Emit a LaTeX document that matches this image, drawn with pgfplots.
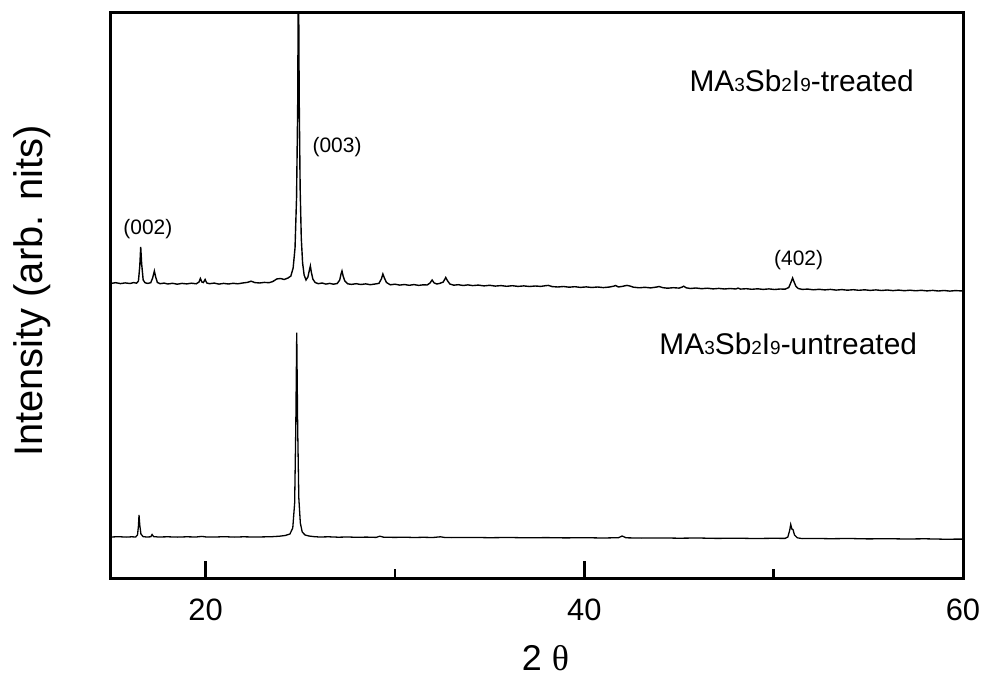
\documentclass[border=0pt]{standalone}
\usepackage{pgfplots}
\pgfplotsset{compat=1.18}
\usepackage{fontspec}
\setmainfont{Liberation Sans}
\newfontfamily\seriffont{Liberation Serif}
\newcommand\sub[1]{{\fontsize{19}{19}\selectfont #1}}

\begin{document}
\begin{tikzpicture}
\useasboundingbox (-111bp,-112bp) rectangle (871bp,578bp);
\begin{axis}[
  at={(0,0)}, anchor=south west,
  scale only axis, width=852bp, height=565bp,
  xmin=15, xmax=60, ymin=0, ymax=565,
  xtick={20,40,60}, minor xtick={30,50},
  xtick pos=left, ytick=\empty,
  tick align=inside,
  major tick length=17bp, minor tick length=9bp,
  every tick/.style={black, line width=2.6bp},
  axis line style={line width=3bp},
  tick label style={font=\fontsize{31}{31}\selectfont, inner sep=0pt},
  /pgf/number format/assume math mode=true,
  xticklabel shift=21bp,
  xlabel={2 {\seriffont θ}},
  ylabel={Intensity (arb. nits)},
  every axis x label/.style={at={(axis description cs:0.51,-0.142)}, anchor=center, font=\fontsize{36}{36}\selectfont},
  every axis y label/.style={at={(axis description cs:-0.093,0.508)}, rotate=90, anchor=center, font=\fontsize{40}{40}\selectfont},
]
% treated film
\addplot[black, no markers, line width=1.4bp] coordinates {
(15.00,294.6) (15.25,295.3) (15.50,294.4) (15.75,295.1) (16.00,294.5) (16.20,295.4)
(16.35,294.8) (16.45,297) (16.52,312) (16.57,331) (16.62,314) (16.70,298) (16.80,295.2)
(16.95,294.6) (17.10,295.3) (17.20,300) (17.29,307) (17.36,301) (17.45,295.5) (17.60,294.3)
(17.80,294.9) (18.00,294.0) (18.25,294.7) (18.50,293.8) (18.75,294.6) (19.00,294.1)
(19.25,294.8) (19.50,294.2) (19.65,296) (19.72,299.5) (19.80,296) (19.88,295.5) (19.97,298.5)
(20.06,295) (20.20,294.3) (20.45,294.9) (20.70,293.9) (20.95,294.6) (21.20,294.0)
(21.45,294.7) (21.70,294.2) (21.95,295.0) (22.20,295.6) (22.40,296.8) (22.60,295.4)
(22.85,295.0) (23.10,295.6) (23.35,295.3) (23.55,296.5) (23.75,299) (23.95,299.5)
(24.15,298.5) (24.35,300) (24.50,302) (24.62,310) (24.72,330) (24.80,380) (24.86,470)
(24.90,620) (24.94,480) (24.99,390) (25.05,340) (25.12,315) (25.20,303) (25.30,298)
(25.40,301) (25.48,308) (25.53,312) (25.58,306) (25.66,299) (25.78,295.5) (25.95,294.3)
(26.15,295.0) (26.35,293.9) (26.55,294.6) (26.75,293.8) (26.95,294.5) (27.08,298)
(27.15,304) (27.20,307) (27.26,302) (27.35,297) (27.50,294.2) (27.70,293.6) (27.95,294.3)
(28.20,293.5) (28.45,294.1) (28.70,293.3) (28.95,294.0) (29.15,294.6) (29.28,299)
(29.36,304) (29.44,300) (29.55,295.5) (29.75,293.2) (30.00,293.8) (30.25,292.9)
(30.50,293.5) (30.75,292.7) (31.00,293.4) (31.25,292.6) (31.50,293.2) (31.70,293.0)
(31.85,295) (31.96,298) (32.06,295.2) (32.20,294.0) (32.35,294.5) (32.55,296) (32.68,300.5)
(32.78,297) (32.90,294) (33.10,292.8) (33.35,293.3) (33.60,292.5) (33.85,293.1)
(34.10,292.4) (34.40,292.9) (34.70,292.1) (35.00,292.7) (35.30,291.9) (35.60,292.4)
(35.90,291.7) (36.20,292.3) (36.50,291.6) (36.80,292.1) (37.10,291.5) (37.40,292.0)
(37.70,291.6) (37.95,292.3) (38.10,292.6) (38.30,291.4) (38.60,291.0) (38.90,291.5)
(39.20,290.8) (39.50,291.3) (39.80,290.6) (40.10,291.1) (40.40,290.5) (40.70,291.0)
(41.00,290.4) (41.30,290.9) (41.55,291.8) (41.65,292.5) (41.80,291.0) (42.00,291.6)
(42.25,292.6) (42.40,292.0) (42.60,290.8) (42.90,290.2) (43.20,290.7) (43.50,290.1)
(43.80,290.9) (43.95,291.5) (44.15,290.3) (44.40,289.8) (44.70,290.3) (45.00,289.9)
(45.15,290.8) (45.25,291.8) (45.38,290.2) (45.60,289.5) (45.90,290.0) (46.20,289.3)
(46.50,289.8) (46.80,289.1) (47.10,289.6) (47.40,289.0) (47.70,289.5) (48.00,289.0)
(48.12,289.9) (48.25,288.9) (48.55,289.3) (48.85,288.7) (49.15,289.2) (49.45,288.6)
(49.75,289.1) (50.05,288.5) (50.35,289.0) (50.60,288.8) (50.80,290.5) (50.92,296)
(51.00,300) (51.08,296) (51.18,291.5) (51.30,289.5) (51.50,288.6) (51.80,288.9)
(52.10,288.2) (52.40,288.7) (52.70,288.1) (53.00,288.6) (53.30,287.9) (53.60,288.4)
(53.90,287.8) (54.20,288.3) (54.50,287.7) (54.80,288.2) (55.10,287.6) (55.40,288.1)
(55.70,287.5) (56.00,288.0) (56.30,287.4) (56.60,287.9) (56.90,287.3) (57.20,287.8)
(57.50,287.2) (57.80,287.7) (58.10,287.1) (58.40,287.6) (58.70,287.0) (59.00,287.5)
(59.30,286.9) (59.60,287.4) (60.00,287.0)
};
% untreated film
\addplot[black, no markers, line width=1.3bp] coordinates {
(15.00,41.0) (15.40,41.3) (15.80,40.9) (16.10,41.2) (16.30,41.0) (16.40,43) (16.45,52)
(16.48,63) (16.52,53) (16.58,44) (16.70,41.3) (16.90,41.0) (17.10,41.2) (17.17,43.5)
(17.25,41.4) (17.50,41.0) (18.00,41.2) (18.50,40.9) (19.00,41.2) (19.50,41.0) (19.80,41.6)
(20.00,41.1) (20.50,41.0) (21.00,41.3) (21.50,40.9) (22.00,41.2) (22.50,41.0) (23.00,41.1)
(23.50,41.3) (23.90,41.8) (24.20,42.5) (24.45,44) (24.60,50) (24.70,75) (24.76,150)
(24.81,245.3) (24.86,150) (24.92,80) (25.00,55) (25.10,46) (25.25,43) (25.45,42)
(25.70,41.4) (26.00,41.0) (26.50,41.2) (27.00,40.8) (27.50,41.0) (28.00,40.7) (28.50,40.9)
(29.00,40.6) (29.20,41.8) (29.40,40.8) (30.00,40.6) (30.50,40.8) (31.00,40.5) (31.50,40.7)
(32.00,40.5) (32.40,41.2) (32.60,40.6) (33.00,40.4) (34.00,40.6) (35.00,40.3) (36.00,40.5)
(37.00,40.2) (38.00,40.4) (39.00,40.1) (40.00,40.3) (41.00,40.0) (41.80,40.3) (42.00,42.0)
(42.20,40.2) (43.00,39.9) (44.00,40.1) (45.00,39.8) (46.00,40.0) (47.00,39.6) (48.00,39.8)
(49.00,39.5) (50.00,39.7) (50.60,39.6) (50.75,41) (50.85,48) (50.90,53.5) (50.96,49)
(51.02,48.5) (51.10,43) (51.25,40.2) (51.50,39.4) (52.00,39.6) (53.00,39.3) (54.00,39.5)
(55.00,39.1) (56.00,39.3) (57.00,39.0) (58.00,39.2) (59.00,38.8) (60.00,38.9)
};
% reflection indices and sample names
\node[font=\fontsize{21}{21}\selectfont] at (axis cs:16.95,348.5) {(002)};
\node[font=\fontsize{21}{21}\selectfont] at (axis cs:26.94,430.5) {(003)};
\node[font=\fontsize{21}{21}\selectfont] at (axis cs:51.32,318) {(402)};
\node[anchor=base, font=\fontsize{30}{30}\selectfont] at (axis cs:51.48,486) {MA\sub{3}Sb\sub{2}I\sub{9}-treated};
\node[anchor=base, font=\fontsize{30}{30}\selectfont] at (axis cs:50.77,223) {MA\sub{3}Sb\sub{2}I\sub{9}-untreated};
\end{axis}
\end{tikzpicture}
\end{document}
